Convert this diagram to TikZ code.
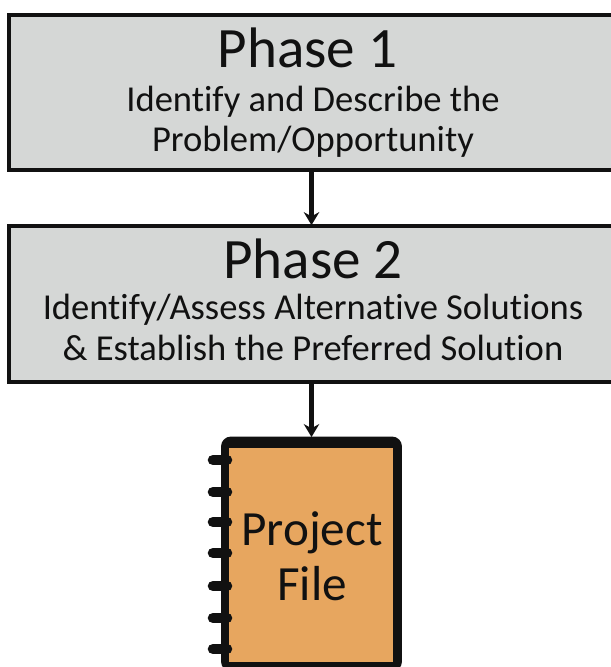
\documentclass[tikz,border=0pt]{standalone}
\usepackage{fontspec}
\setmainfont[Ligatures=NoCommon]{Carlito}
\usetikzlibrary{arrows.meta}
\definecolor{phasegray}{HTML}{D5D7D6}
\definecolor{fileorange}{HTML}{E7A65F}
\definecolor{inkblack}{HTML}{111111}
\newcommand{\lw}{2pt}
\newcommand{\TS}{\fontsize{32.5}{34}\selectfont}
\newcommand{\LS}{\fontsize{20.8}{24}\selectfont}
\newcommand{\FS}{\fontsize{28}{32}\selectfont}
\tikzset{
    phasebox/.style={draw=inkblack,fill=phasegray,line width=\lw,minimum width=12.3cm,inner sep=0pt},
    phasetitle/.style={anchor=base,inner sep=0pt,text=inkblack,font=\TS},
    phasetext/.style={anchor=base,inner sep=0pt,text=inkblack,font=\LS},
    filetext/.style={anchor=base,inner sep=0pt,text=inkblack,font=\FS},
    flowarrow/.style={-{Stealth[length=2.6mm,width=3.1mm]},inkblack,line width=2.3pt,shorten >=-0.5pt},
    ringline/.style={inkblack,line width=6pt,line cap=round},
}
\begin{document}
\begin{tikzpicture}[x=0.02cm,y=-0.02cm]
    \useasboundingbox (0,0) rectangle (611,667);

    \node[phasebox,minimum height=3.1cm] (phase1) at (316.5,92.5) {};
    \node[phasetitle] (title1) at (307.5,67) {Phase 1};
    \node[phasetext] (text1a) at (313,111) {Identify and Describe the};
    \node[phasetext] (text1b) at (313,151) {Problem/Opportunity};

    \node[phasebox,minimum height=3.12cm] (phase2) at (316.5,304) {};
    \node[phasetitle] (title2) at (313,278) {Phase 2};
    \node[phasetext] (text2a) at (313,319) {Identify/Assess Alternative Solutions};
    \node[phasetext] (text2b) at (313,360) {\& Establish the Preferred Solution};

    \node[fill=inkblack,rounded corners=2mm,minimum width=3.62cm,minimum height=4.7cm,inner sep=0pt] (file) at (311.5,554) {};
    \node[fill=fileorange,minimum width=3.28cm,minimum height=4.28cm,inner sep=0pt] (cover) at (311,555) {};
    \node[filetext] (file1) at (312,545) {Project};
    \node[filetext] (file2) at (312,600) {File};

    \foreach \y in {460,492,522,553,586,618,649}{
        \draw[ringline] (213,\y) -- (227,\y);
    }

    \draw[flowarrow] (phase1.south -| file.north) -- (phase2.north -| file.north);
    \draw[flowarrow] (phase2.south -| file.north) -- (file.north);
\end{tikzpicture}
\end{document}
